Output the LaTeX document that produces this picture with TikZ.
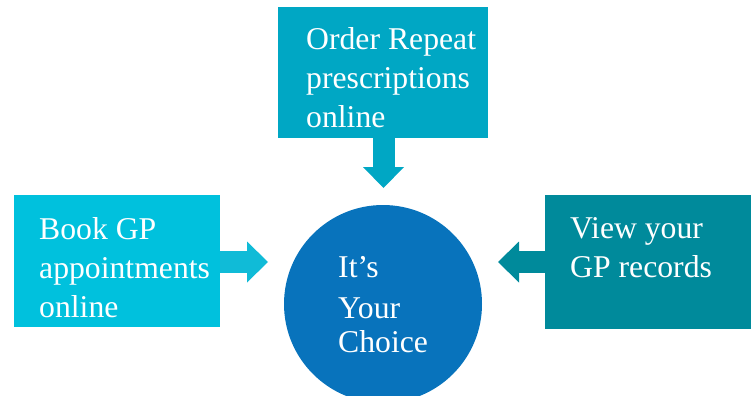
\documentclass[tikz,border=0pt]{standalone}
\usepackage{fontspec}
\setmainfont{Liberation Serif}
\usepackage{xcolor}
\usepackage{tikz}
\usetikzlibrary{arrows.meta}
\usetikzlibrary{calc,positioning}

\definecolor{orderteal}{HTML}{00A7C4}
\definecolor{bookcyan}{HTML}{00C1DD}
\definecolor{bookarrow}{HTML}{10BBD7}
\definecolor{recordsteal}{HTML}{008A9B}
\definecolor{choiceblue}{HTML}{0873BC}

\tikzset{
  panel/.style={fill=#1,draw=none,anchor=north west,inner sep=0pt},
  panel text/.style={text=white,anchor=base west,align=left,inner sep=0pt,
    font=\fontsize{31.7}{39}\selectfont},
  fat arrow/.style={draw=#1,line width=22pt,
    -{Triangle[length=21pt 0 0,width=41pt 0 0,line width=0pt 0 0,fill=#1]}}
}

\begin{document}
\begin{tikzpicture}[x=1pt,y=-1pt]
\clip (0,0) rectangle (755,396);
\node[panel=orderteal,minimum width=210pt,minimum height=131pt] (order) at (278,7) {};
\node[panel=bookcyan,minimum width=206pt,minimum height=132pt] (book) at (14,195) {};
\node[panel=recordsteal,minimum width=206pt,minimum height=134pt] (records) at (545,195) {};
\node[circle,fill=choiceblue,minimum size=198pt,inner sep=0pt] (choice) at (383,304) {};

\node[panel text] (ordertext) at ($(order.north west)+(28,120)$) {Order Repeat\\prescriptions\\online};
\node[panel text] (booktext) at ($(book.north west)+(25,122)$) {Book GP\\appointments\\online};
\node[panel text] (recordstext) at ($(records.north west)+(25,82)$) {View your\\GP records};
\node[panel text] (choicetext) at ($(choice.center)+(-45,48)$) {It’s\\[2pt]Your\\[-5pt]Choice};

\coordinate (ordertip) at (383.5,188);
\coordinate (booktip) at (268,262);
\coordinate (recordstip) at (498,262);
\draw[fat arrow=orderteal] (order.south -| ordertip) -- (ordertip);
\draw[fat arrow=bookarrow] (book.east |- booktip) -- (booktip);
\draw[fat arrow=recordsteal] (records.west |- recordstip) -- (recordstip);
\end{tikzpicture}
\end{document}
